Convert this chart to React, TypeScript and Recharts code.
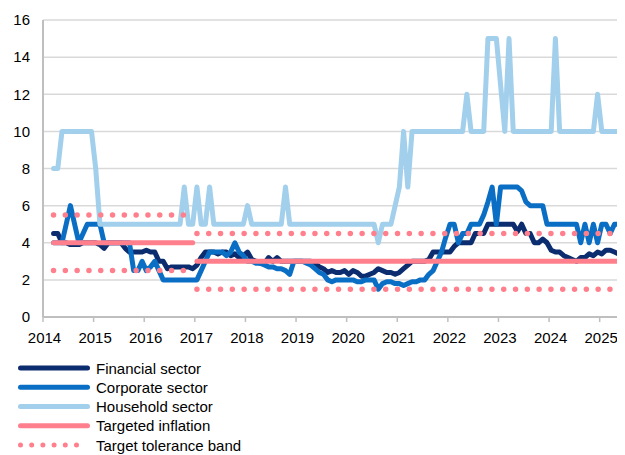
import React from 'react';
import { LineChart, Line, XAxis, YAxis, CartesianGrid } from 'recharts';

// monthly observations, first one is March 2014
const startYear = 2014;
const startMonth = 3;

const yearTicks = [2014, 2015, 2016, 2017, 2018, 2019, 2020, 2021, 2022, 2023, 2024, 2025];
const valueTicks = [0, 2, 4, 6, 8, 10, 12, 14, 16];

const financial = [
  4.5, 4.5, 4.0, 4.0, 3.9, 3.9, 3.9, 4.0, 4.0, 4.0, // 2014 Mar-Dec
  4.0, 3.9, 3.7, 4.0, 4.0, 4.0, 4.0, 3.7, 3.5, 3.5, 3.5, 3.5, // 2015
  3.6, 3.5, 3.5, 3.0, 3.0, 2.6, 2.7, 2.7, 2.7, 2.7, 2.7, 2.6, // 2016
  2.8, 3.2, 3.5, 3.5, 3.5, 3.4, 3.5, 3.5, 3.3, 3.4, 3.2, 3.3, // 2017
  3.5, 3.1, 3.0, 2.9, 2.9, 3.2, 3.0, 3.2, 3.0, 3.0, 3.0, 3.0, // 2018
  3.0, 3.0, 3.0, 3.0, 2.9, 2.7, 2.6, 2.4, 2.5, 2.4, 2.4, 2.5, // 2019
  2.3, 2.5, 2.4, 2.2, 2.2, 2.3, 2.4, 2.6, 2.5, 2.4, 2.4, 2.3, // 2020
  2.4, 2.6, 2.8, 3.0, 3.0, 3.0, 3.0, 3.1, 3.5, 3.5, 3.5, 3.5, // 2021
  3.5, 3.8, 4.0, 4.0, 4.0, 4.0, 4.5, 4.5, 4.5, 5.0, 5.0, 5.0, // 2022
  5.0, 5.0, 5.0, 5.0, 4.6, 5.0, 4.5, 4.5, 4.0, 4.0, 4.2, 4.0, // 2023
  3.6, 3.5, 3.5, 3.3, 3.2, 3.1, 3.0, 3.2, 3.2, 3.4, 3.3, 3.5, // 2024
  3.4, 3.6, 3.6, 3.5, 3.4, 3.2, // 2025 Jan-Jun
];

const corporate = [
  4, 4, 4, 5, 6, 5, 4, 4.5, 5, 5, // 2014 Mar-Dec
  5, 5, 4, 4, 4, 4, 4, 4, 4, 2.5, 2.5, 3, // 2015
  2.5, 2.7, 3, 2.5, 2, 2, 2, 2, 2, 2, 2, 2, // 2016
  2, 2.5, 3, 3.5, 3.5, 3.5, 3.5, 3.3, 3.5, 4, 3.5, 3.3, // 2017
  3.0, 3.0, 2.9, 2.9, 2.8, 2.7, 2.7, 2.6, 2.6, 2.5, 2.3, 3.0, // 2018
  3.0, 3.0, 2.9, 2.8, 2.6, 2.4, 2.3, 2.0, 1.9, 2.0, 2.0, 2.0, // 2019
  2.0, 2.0, 1.9, 1.9, 2.0, 2.0, 2.0, 1.5, 1.8, 1.9, 1.9, 1.8, // 2020
  1.8, 1.7, 1.8, 1.9, 1.9, 2.0, 2.0, 2.3, 2.5, 3.0, 3.5, 4.3, // 2021
  5, 5, 4, 4.5, 4.5, 5, 5, 5, 5.5, 6.2, 7, 5, // 2022
  7, 7, 7, 7, 7, 6.8, 6.2, 6, 6, 6, 6, 5, // 2023
  5, 5, 5, 5, 5, 5, 5, 4, 5, 4, 5, 4, // 2024
  5, 5, 4.5, 5, 5, 5, // 2025 Jan-Jun
];

const household = [
  8, 8, 10, 10, 10, 10, 10, 10, 10, 10, // 2014 Mar-Dec
  8, 5, 5, 5, 5, 5, 5, 5, 5, 5, 5, 5, // 2015
  5, 5, 5, 5, 5, 5, 5, 5, 5, 7, 5, 5, // 2016
  7, 5, 5, 7, 5, 5, 5, 5, 5, 5, 5, 5, // 2017
  6, 5, 5, 5, 5, 5, 5, 5, 5, 7, 5, 5, // 2018
  5, 5, 5, 5, 5, 5, 5, 5, 5, 5, 5, 5, // 2019
  5, 5, 5, 5, 5, 5, 5, 4, 5, 5, 5, 6, // 2020
  7, 10, 7, 10, 10, 10, 10, 10, 10, 10, 10, 10, // 2021
  10, 10, 10, 10, 12, 10, 10, 10, 10, 15, 15, 15, // 2022
  12.5, 10, 15, 10, 10, 10, 10, 10, 10, 10, 10, 10, // 2023
  10, 15, 10, 10, 10, 10, 10, 10, 10, 10, 10, 12, // 2024
  10, 10, 10, 10, 10, 10, // 2025 Jan-Jun
];

// inflation target regimes
const targetFromYear = [2014, 2017];
const targetValue = [4, 3];
const targetTolerance = [1.5, 1.5];

const NAVY = '#0b2d6f';
const MID = '#0a6fc4';
const LIGHT = '#a2cfeb';
const PINK = '#ff808c';
const FONT = '"Liberation Sans", Arial, sans-serif';

const rows = financial.map((v, i) => {
  const m = startMonth - 1 + i;
  const year = startYear + Math.floor(m / 12);
  const row: any = {
    t: startYear + (m + 0.5) / 12,
    financial: v,
    corporate: corporate[i],
    household: household[i],
  };
  targetFromYear.forEach((from, k) => {
    const next = targetFromYear[k + 1] ?? Infinity;
    const on = year >= from && year < next;
    row['target' + k] = on ? targetValue[k] : null;
    row['hi' + k] = on ? targetValue[k] + targetTolerance[k] : null;
    row['lo' + k] = on ? targetValue[k] - targetTolerance[k] : null;
  });
  return row;
});

const legendItems = [
  { name: 'Financial sector', color: NAVY, dotted: false },
  { name: 'Corporate sector', color: MID, dotted: false },
  { name: 'Household sector', color: LIGHT, dotted: false },
  { name: 'Targeted inflation', color: PINK, dotted: false },
  { name: 'Target tolerance band', color: PINK, dotted: true },
];

function ChartLegend() {
  return (
    <svg width={617} height={447} style={{ position: 'absolute', left: 0, top: 0, pointerEvents: 'none' }}>
      {legendItems.map((it, i) => {
        const y = 360 + i * 19.25;
        return (
          <g key={it.name}>
            <line
              x1={12.5}
              x2={79.5}
              y1={y}
              y2={y}
              stroke={it.color}
              strokeWidth={5}
              strokeLinecap="round"
              strokeDasharray={it.dotted ? '0 11.2' : undefined}
            />
            <text x={88} y={y} dominantBaseline="central" fontSize={15} fontFamily={FONT} fill="#000">
              {it.name}
            </text>
          </g>
        );
      })}
    </svg>
  );
}

export default function App() {
  const common = {
    type: 'linear' as const,
    dot: false,
    activeDot: false,
    isAnimationActive: false,
    strokeLinecap: 'round' as const,
    strokeLinejoin: 'round' as const,
  };
  return (
    <div style={{ position: 'relative', width: 617, height: 447, fontFamily: FONT }}>
      <LineChart width={617} height={447} data={rows} margin={{ top: 12, right: 0, bottom: 108, left: 0 }}>
        <CartesianGrid vertical={false} stroke="#d9d9d9" strokeWidth={1.5} />
        <XAxis
          type="number"
          dataKey="t"
          domain={[2014, 2025.5]}
          ticks={yearTicks}
          interval={0}
          height={30}
          tickSize={5}
          tickMargin={10}
          axisLine={{ stroke: '#bfbfbf', strokeWidth: 2 }}
          tickLine={{ stroke: '#bfbfbf', strokeWidth: 1.5 }}
          tick={{ fill: '#000', fontSize: 15, fontFamily: FONT, dx: 1.5 }}
        />
        <YAxis
          domain={[0, 16]}
          ticks={valueTicks}
          interval={0}
          width={35}
          tickSize={6}
          tickMargin={7}
          tickLine={false}
          axisLine={{ stroke: '#bfbfbf', strokeWidth: 2 }}
          tick={{ fill: '#000', fontSize: 15, fontFamily: FONT }}
        />
        <Line {...common} dataKey="financial" stroke={NAVY} strokeWidth={5} />
        <Line {...common} dataKey="corporate" stroke={MID} strokeWidth={5} />
        <Line {...common} dataKey="household" stroke={LIGHT} strokeWidth={5} />
        {targetFromYear.map((_, k) => (
          <Line key={'t' + k} {...common} dataKey={'target' + k} stroke={PINK} strokeWidth={5} />
        ))}
        {targetFromYear.map((_, k) => (
          <Line key={'h' + k} {...common} dataKey={'hi' + k} stroke={PINK} strokeWidth={5.5} strokeDasharray="0 11.8" />
        ))}
        {targetFromYear.map((_, k) => (
          <Line key={'l' + k} {...common} dataKey={'lo' + k} stroke={PINK} strokeWidth={5.5} strokeDasharray="0 11.8" />
        ))}
      </LineChart>
      <ChartLegend />
    </div>
  );
}
